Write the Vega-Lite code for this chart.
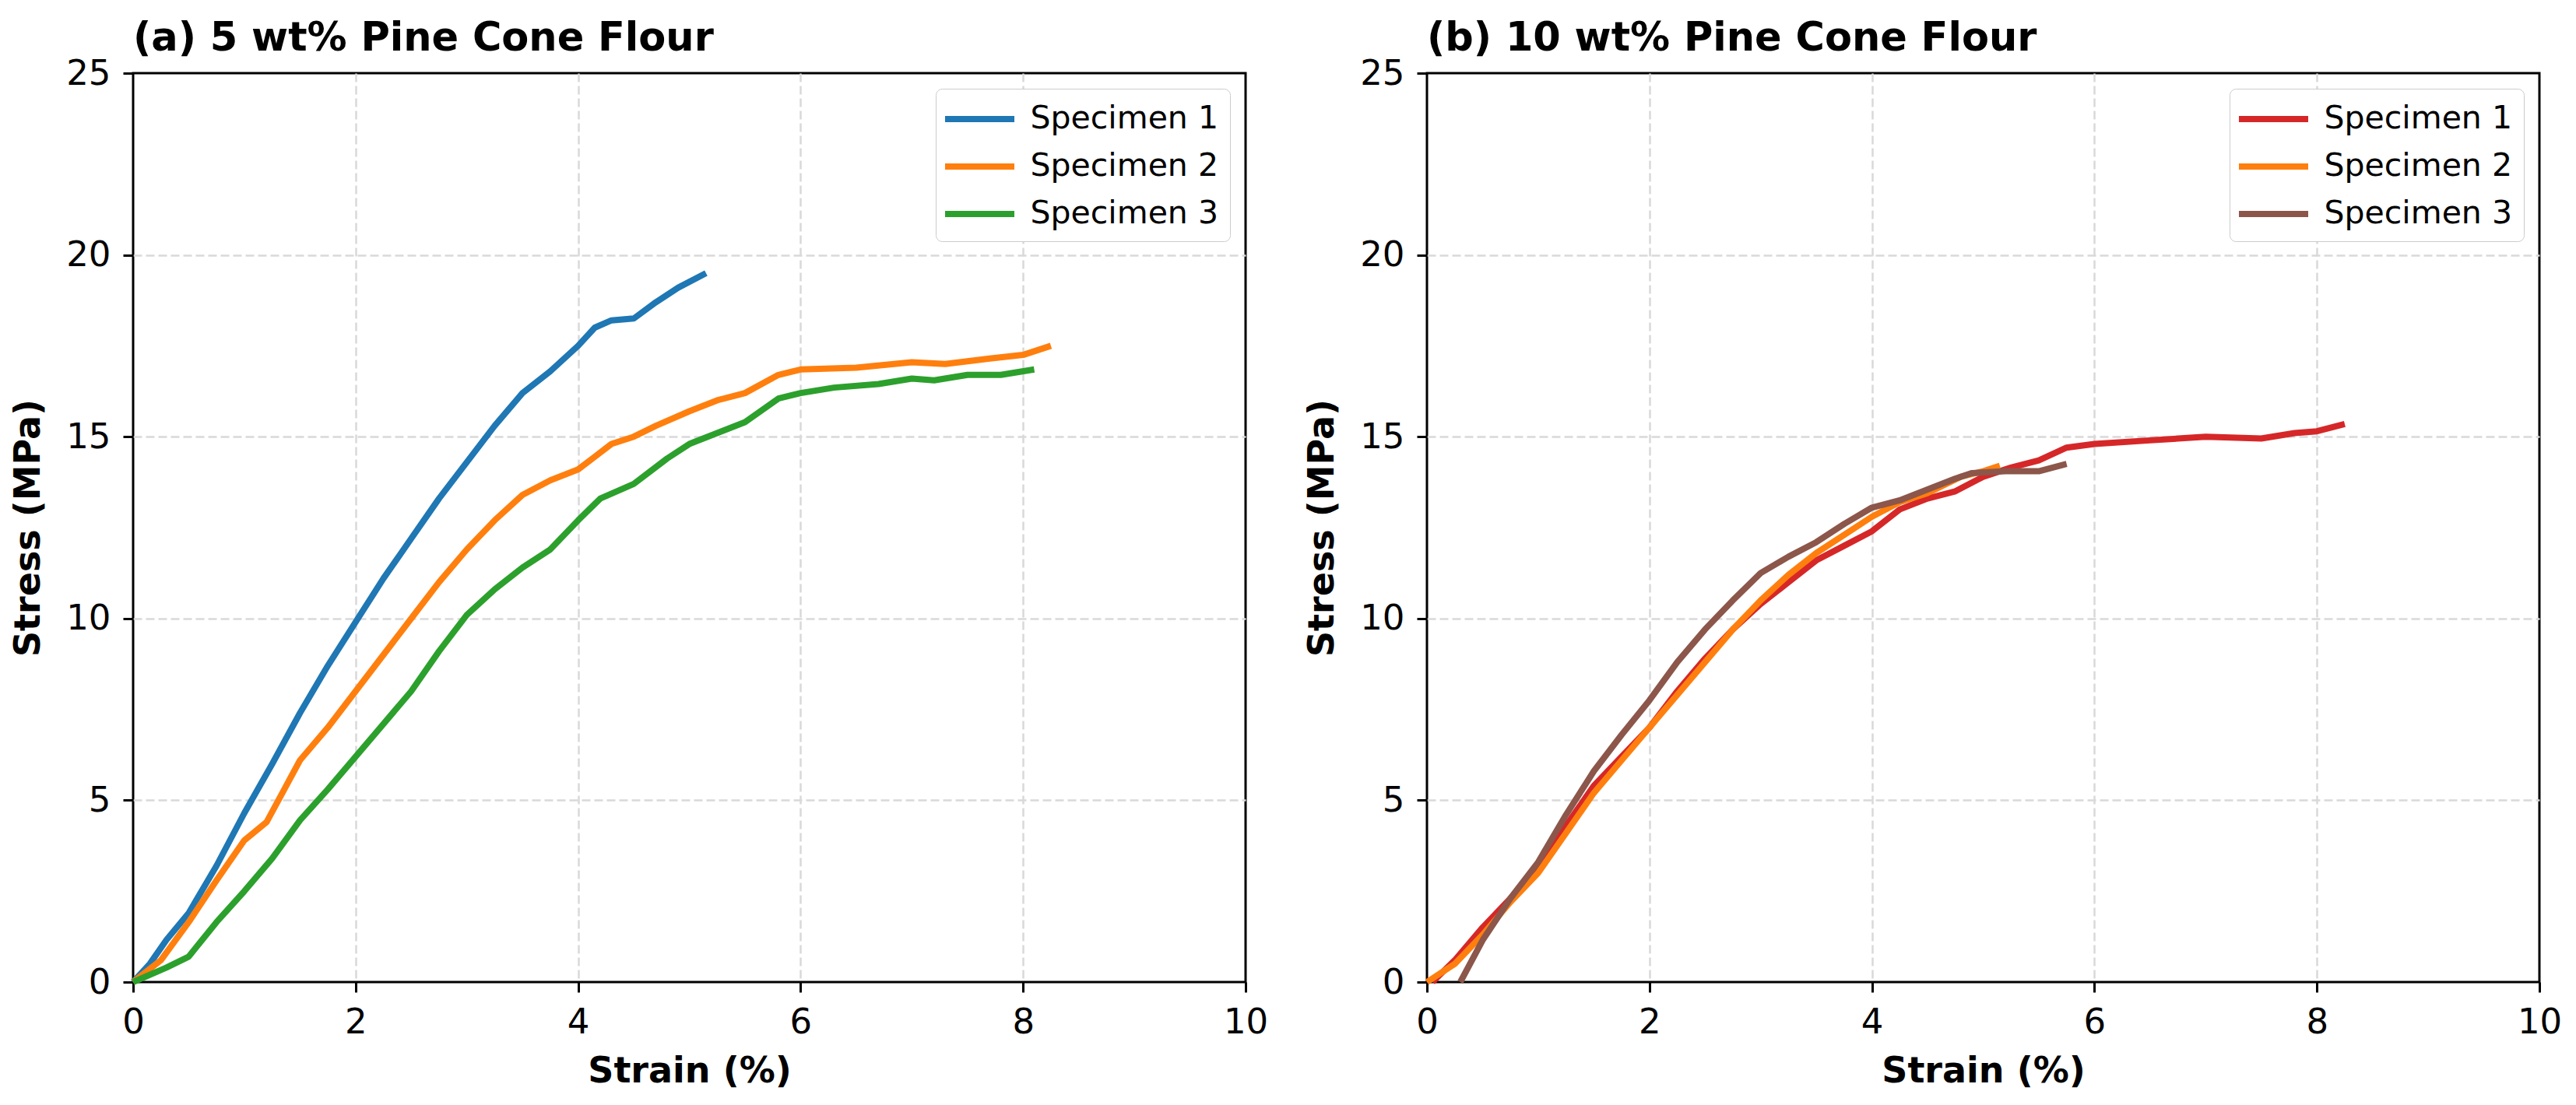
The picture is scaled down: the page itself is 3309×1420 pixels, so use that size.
{
  "$schema": "https://vega.github.io/schema/vega-lite/v6.json",
  "padding": {"left": 12, "top": 22, "right": 10, "bottom": 5},
  "background": "white",
  "datasets": {
    "curves": [
      {"panel": "a", "specimen": "Specimen 1", "strain": 0, "stress": 0},
      {"panel": "a", "specimen": "Specimen 1", "strain": 0.15, "stress": 0.5},
      {"panel": "a", "specimen": "Specimen 1", "strain": 0.3, "stress": 1.16},
      {"panel": "a", "specimen": "Specimen 1", "strain": 0.5, "stress": 1.9},
      {"panel": "a", "specimen": "Specimen 1", "strain": 0.75, "stress": 3.2},
      {"panel": "a", "specimen": "Specimen 1", "strain": 1, "stress": 4.65},
      {"panel": "a", "specimen": "Specimen 1", "strain": 1.25, "stress": 6.0},
      {"panel": "a", "specimen": "Specimen 1", "strain": 1.5, "stress": 7.4},
      {"panel": "a", "specimen": "Specimen 1", "strain": 1.75, "stress": 8.7},
      {"panel": "a", "specimen": "Specimen 1", "strain": 2, "stress": 9.9},
      {"panel": "a", "specimen": "Specimen 1", "strain": 2.25, "stress": 11.1},
      {"panel": "a", "specimen": "Specimen 1", "strain": 2.5, "stress": 12.2},
      {"panel": "a", "specimen": "Specimen 1", "strain": 2.75, "stress": 13.3},
      {"panel": "a", "specimen": "Specimen 1", "strain": 3, "stress": 14.3},
      {"panel": "a", "specimen": "Specimen 1", "strain": 3.25, "stress": 15.3},
      {"panel": "a", "specimen": "Specimen 1", "strain": 3.5, "stress": 16.2},
      {"panel": "a", "specimen": "Specimen 1", "strain": 3.75, "stress": 16.8},
      {"panel": "a", "specimen": "Specimen 1", "strain": 4, "stress": 17.5},
      {"panel": "a", "specimen": "Specimen 1", "strain": 4.15, "stress": 18.0},
      {"panel": "a", "specimen": "Specimen 1", "strain": 4.3, "stress": 18.2},
      {"panel": "a", "specimen": "Specimen 1", "strain": 4.5, "stress": 18.25},
      {"panel": "a", "specimen": "Specimen 1", "strain": 4.7, "stress": 18.7},
      {"panel": "a", "specimen": "Specimen 1", "strain": 4.9, "stress": 19.1},
      {"panel": "a", "specimen": "Specimen 1", "strain": 5.15, "stress": 19.5},

      {"panel": "a", "specimen": "Specimen 2", "strain": 0, "stress": 0},
      {"panel": "a", "specimen": "Specimen 2", "strain": 0.25, "stress": 0.6},
      {"panel": "a", "specimen": "Specimen 2", "strain": 0.5, "stress": 1.65},
      {"panel": "a", "specimen": "Specimen 2", "strain": 0.75, "stress": 2.8},
      {"panel": "a", "specimen": "Specimen 2", "strain": 1, "stress": 3.9},
      {"panel": "a", "specimen": "Specimen 2", "strain": 1.2, "stress": 4.4},
      {"panel": "a", "specimen": "Specimen 2", "strain": 1.5, "stress": 6.1},
      {"panel": "a", "specimen": "Specimen 2", "strain": 1.75, "stress": 7.0},
      {"panel": "a", "specimen": "Specimen 2", "strain": 2, "stress": 8.0},
      {"panel": "a", "specimen": "Specimen 2", "strain": 2.25, "stress": 9.0},
      {"panel": "a", "specimen": "Specimen 2", "strain": 2.5, "stress": 10.0},
      {"panel": "a", "specimen": "Specimen 2", "strain": 2.75, "stress": 11.0},
      {"panel": "a", "specimen": "Specimen 2", "strain": 3, "stress": 11.9},
      {"panel": "a", "specimen": "Specimen 2", "strain": 3.25, "stress": 12.7},
      {"panel": "a", "specimen": "Specimen 2", "strain": 3.5, "stress": 13.4},
      {"panel": "a", "specimen": "Specimen 2", "strain": 3.75, "stress": 13.8},
      {"panel": "a", "specimen": "Specimen 2", "strain": 4, "stress": 14.1},
      {"panel": "a", "specimen": "Specimen 2", "strain": 4.3, "stress": 14.8},
      {"panel": "a", "specimen": "Specimen 2", "strain": 4.5, "stress": 15.0},
      {"panel": "a", "specimen": "Specimen 2", "strain": 4.7, "stress": 15.3},
      {"panel": "a", "specimen": "Specimen 2", "strain": 5, "stress": 15.7},
      {"panel": "a", "specimen": "Specimen 2", "strain": 5.25, "stress": 16.0},
      {"panel": "a", "specimen": "Specimen 2", "strain": 5.5, "stress": 16.2},
      {"panel": "a", "specimen": "Specimen 2", "strain": 5.8, "stress": 16.7},
      {"panel": "a", "specimen": "Specimen 2", "strain": 6, "stress": 16.85},
      {"panel": "a", "specimen": "Specimen 2", "strain": 6.5, "stress": 16.9},
      {"panel": "a", "specimen": "Specimen 2", "strain": 7, "stress": 17.05},
      {"panel": "a", "specimen": "Specimen 2", "strain": 7.3, "stress": 17.0},
      {"panel": "a", "specimen": "Specimen 2", "strain": 7.7, "stress": 17.15},
      {"panel": "a", "specimen": "Specimen 2", "strain": 8, "stress": 17.25},
      {"panel": "a", "specimen": "Specimen 2", "strain": 8.25, "stress": 17.5},

      {"panel": "a", "specimen": "Specimen 3", "strain": 0, "stress": 0},
      {"panel": "a", "specimen": "Specimen 3", "strain": 0.3, "stress": 0.4},
      {"panel": "a", "specimen": "Specimen 3", "strain": 0.5, "stress": 0.7},
      {"panel": "a", "specimen": "Specimen 3", "strain": 0.75, "stress": 1.65},
      {"panel": "a", "specimen": "Specimen 3", "strain": 1, "stress": 2.5},
      {"panel": "a", "specimen": "Specimen 3", "strain": 1.25, "stress": 3.4},
      {"panel": "a", "specimen": "Specimen 3", "strain": 1.5, "stress": 4.45},
      {"panel": "a", "specimen": "Specimen 3", "strain": 1.75, "stress": 5.3},
      {"panel": "a", "specimen": "Specimen 3", "strain": 2, "stress": 6.2},
      {"panel": "a", "specimen": "Specimen 3", "strain": 2.25, "stress": 7.1},
      {"panel": "a", "specimen": "Specimen 3", "strain": 2.5, "stress": 8.0},
      {"panel": "a", "specimen": "Specimen 3", "strain": 2.75, "stress": 9.1},
      {"panel": "a", "specimen": "Specimen 3", "strain": 3, "stress": 10.1},
      {"panel": "a", "specimen": "Specimen 3", "strain": 3.25, "stress": 10.8},
      {"panel": "a", "specimen": "Specimen 3", "strain": 3.5, "stress": 11.4},
      {"panel": "a", "specimen": "Specimen 3", "strain": 3.75, "stress": 11.9},
      {"panel": "a", "specimen": "Specimen 3", "strain": 4, "stress": 12.7},
      {"panel": "a", "specimen": "Specimen 3", "strain": 4.2, "stress": 13.3},
      {"panel": "a", "specimen": "Specimen 3", "strain": 4.5, "stress": 13.7},
      {"panel": "a", "specimen": "Specimen 3", "strain": 4.8, "stress": 14.4},
      {"panel": "a", "specimen": "Specimen 3", "strain": 5, "stress": 14.8},
      {"panel": "a", "specimen": "Specimen 3", "strain": 5.25, "stress": 15.1},
      {"panel": "a", "specimen": "Specimen 3", "strain": 5.5, "stress": 15.4},
      {"panel": "a", "specimen": "Specimen 3", "strain": 5.8, "stress": 16.05},
      {"panel": "a", "specimen": "Specimen 3", "strain": 6, "stress": 16.2},
      {"panel": "a", "specimen": "Specimen 3", "strain": 6.3, "stress": 16.35},
      {"panel": "a", "specimen": "Specimen 3", "strain": 6.7, "stress": 16.45},
      {"panel": "a", "specimen": "Specimen 3", "strain": 7, "stress": 16.6},
      {"panel": "a", "specimen": "Specimen 3", "strain": 7.2, "stress": 16.55},
      {"panel": "a", "specimen": "Specimen 3", "strain": 7.5, "stress": 16.7},
      {"panel": "a", "specimen": "Specimen 3", "strain": 7.8, "stress": 16.7},
      {"panel": "a", "specimen": "Specimen 3", "strain": 8.1, "stress": 16.85},

      {"panel": "b", "specimen": "Specimen 1", "strain": 0.05, "stress": 0},
      {"panel": "b", "specimen": "Specimen 1", "strain": 0.25, "stress": 0.6},
      {"panel": "b", "specimen": "Specimen 1", "strain": 0.5, "stress": 1.5},
      {"panel": "b", "specimen": "Specimen 1", "strain": 0.75, "stress": 2.3},
      {"panel": "b", "specimen": "Specimen 1", "strain": 1, "stress": 3.2},
      {"panel": "b", "specimen": "Specimen 1", "strain": 1.25, "stress": 4.3},
      {"panel": "b", "specimen": "Specimen 1", "strain": 1.5, "stress": 5.4},
      {"panel": "b", "specimen": "Specimen 1", "strain": 1.75, "stress": 6.2},
      {"panel": "b", "specimen": "Specimen 1", "strain": 2, "stress": 7.0},
      {"panel": "b", "specimen": "Specimen 1", "strain": 2.25, "stress": 8.0},
      {"panel": "b", "specimen": "Specimen 1", "strain": 2.5, "stress": 8.9},
      {"panel": "b", "specimen": "Specimen 1", "strain": 2.75, "stress": 9.7},
      {"panel": "b", "specimen": "Specimen 1", "strain": 3, "stress": 10.4},
      {"panel": "b", "specimen": "Specimen 1", "strain": 3.25, "stress": 11.0},
      {"panel": "b", "specimen": "Specimen 1", "strain": 3.5, "stress": 11.6},
      {"panel": "b", "specimen": "Specimen 1", "strain": 3.75, "stress": 12.0},
      {"panel": "b", "specimen": "Specimen 1", "strain": 4, "stress": 12.4},
      {"panel": "b", "specimen": "Specimen 1", "strain": 4.25, "stress": 13.0},
      {"panel": "b", "specimen": "Specimen 1", "strain": 4.5, "stress": 13.3},
      {"panel": "b", "specimen": "Specimen 1", "strain": 4.75, "stress": 13.5},
      {"panel": "b", "specimen": "Specimen 1", "strain": 5, "stress": 13.9},
      {"panel": "b", "specimen": "Specimen 1", "strain": 5.25, "stress": 14.15},
      {"panel": "b", "specimen": "Specimen 1", "strain": 5.5, "stress": 14.35},
      {"panel": "b", "specimen": "Specimen 1", "strain": 5.75, "stress": 14.7},
      {"panel": "b", "specimen": "Specimen 1", "strain": 6, "stress": 14.8},
      {"panel": "b", "specimen": "Specimen 1", "strain": 6.5, "stress": 14.9},
      {"panel": "b", "specimen": "Specimen 1", "strain": 7, "stress": 15.0},
      {"panel": "b", "specimen": "Specimen 1", "strain": 7.5, "stress": 14.95},
      {"panel": "b", "specimen": "Specimen 1", "strain": 7.8, "stress": 15.1},
      {"panel": "b", "specimen": "Specimen 1", "strain": 8, "stress": 15.15},
      {"panel": "b", "specimen": "Specimen 1", "strain": 8.25, "stress": 15.35},

      {"panel": "b", "specimen": "Specimen 2", "strain": 0, "stress": 0},
      {"panel": "b", "specimen": "Specimen 2", "strain": 0.25, "stress": 0.5},
      {"panel": "b", "specimen": "Specimen 2", "strain": 0.5, "stress": 1.3},
      {"panel": "b", "specimen": "Specimen 2", "strain": 0.75, "stress": 2.2},
      {"panel": "b", "specimen": "Specimen 2", "strain": 1, "stress": 3.0},
      {"panel": "b", "specimen": "Specimen 2", "strain": 1.25, "stress": 4.1},
      {"panel": "b", "specimen": "Specimen 2", "strain": 1.5, "stress": 5.2},
      {"panel": "b", "specimen": "Specimen 2", "strain": 1.75, "stress": 6.1},
      {"panel": "b", "specimen": "Specimen 2", "strain": 2, "stress": 7.0},
      {"panel": "b", "specimen": "Specimen 2", "strain": 2.25, "stress": 7.9},
      {"panel": "b", "specimen": "Specimen 2", "strain": 2.5, "stress": 8.8},
      {"panel": "b", "specimen": "Specimen 2", "strain": 2.75, "stress": 9.7},
      {"panel": "b", "specimen": "Specimen 2", "strain": 3, "stress": 10.5},
      {"panel": "b", "specimen": "Specimen 2", "strain": 3.25, "stress": 11.2},
      {"panel": "b", "specimen": "Specimen 2", "strain": 3.5, "stress": 11.8},
      {"panel": "b", "specimen": "Specimen 2", "strain": 3.75, "stress": 12.3},
      {"panel": "b", "specimen": "Specimen 2", "strain": 4, "stress": 12.8},
      {"panel": "b", "specimen": "Specimen 2", "strain": 4.25, "stress": 13.2},
      {"panel": "b", "specimen": "Specimen 2", "strain": 4.5, "stress": 13.45},
      {"panel": "b", "specimen": "Specimen 2", "strain": 4.8, "stress": 13.9},
      {"panel": "b", "specimen": "Specimen 2", "strain": 5, "stress": 14.05},
      {"panel": "b", "specimen": "Specimen 2", "strain": 5.15, "stress": 14.2},

      {"panel": "b", "specimen": "Specimen 3", "strain": 0.3, "stress": 0},
      {"panel": "b", "specimen": "Specimen 3", "strain": 0.5, "stress": 1.15},
      {"panel": "b", "specimen": "Specimen 3", "strain": 0.75, "stress": 2.3},
      {"panel": "b", "specimen": "Specimen 3", "strain": 1, "stress": 3.3},
      {"panel": "b", "specimen": "Specimen 3", "strain": 1.25, "stress": 4.6},
      {"panel": "b", "specimen": "Specimen 3", "strain": 1.5, "stress": 5.8},
      {"panel": "b", "specimen": "Specimen 3", "strain": 1.75, "stress": 6.8},
      {"panel": "b", "specimen": "Specimen 3", "strain": 2, "stress": 7.75},
      {"panel": "b", "specimen": "Specimen 3", "strain": 2.25, "stress": 8.8},
      {"panel": "b", "specimen": "Specimen 3", "strain": 2.5, "stress": 9.7},
      {"panel": "b", "specimen": "Specimen 3", "strain": 2.75, "stress": 10.5},
      {"panel": "b", "specimen": "Specimen 3", "strain": 3, "stress": 11.25},
      {"panel": "b", "specimen": "Specimen 3", "strain": 3.25, "stress": 11.7},
      {"panel": "b", "specimen": "Specimen 3", "strain": 3.5, "stress": 12.1},
      {"panel": "b", "specimen": "Specimen 3", "strain": 3.75, "stress": 12.6},
      {"panel": "b", "specimen": "Specimen 3", "strain": 4, "stress": 13.05},
      {"panel": "b", "specimen": "Specimen 3", "strain": 4.25, "stress": 13.25},
      {"panel": "b", "specimen": "Specimen 3", "strain": 4.5, "stress": 13.55},
      {"panel": "b", "specimen": "Specimen 3", "strain": 4.75, "stress": 13.85},
      {"panel": "b", "specimen": "Specimen 3", "strain": 4.9, "stress": 14.0},
      {"panel": "b", "specimen": "Specimen 3", "strain": 5.2, "stress": 14.05},
      {"panel": "b", "specimen": "Specimen 3", "strain": 5.5, "stress": 14.05},
      {"panel": "b", "specimen": "Specimen 3", "strain": 5.75, "stress": 14.25}
    ]
  },
  "config": {
    "font": "DejaVu Sans",
    "view": {"stroke": "black", "strokeWidth": 3},
    "title": {
      "font": "DejaVu Sans",
      "fontSize": 51,
      "fontWeight": "bold",
      "color": "black",
      "anchor": "start",
      "frame": "group",
      "offset": -4
    },
    "axis": {
      "domain": false,
      "ticks": true,
      "tickSize": 13,
      "tickWidth": 3,
      "tickColor": "black",
      "labelFont": "DejaVu Sans",
      "labelFontSize": 45,
      "labelColor": "black",
      "labelPadding": 16,
      "labelFlush": false,
      "labelOverlap": false,
      "titleFont": "DejaVu Sans",
      "titleFontSize": 46,
      "titleFontWeight": "bold",
      "titleColor": "black",
      "grid": true,
      "gridColor": "#d9d9d9",
      "gridDash": [11, 5],
      "gridWidth": 2.5
    },
    "axisX": {"titlePadding": 18},
    "axisY": {"titlePadding": 24},
    "legend": {
      "orient": "top-right",
      "offset": 20,
      "padding": 15,
      "strokeColor": "#cccccc",
      "fillColor": "white",
      "cornerRadius": 8,
      "labelFont": "DejaVu Sans",
      "labelFontSize": 41,
      "labelColor": "black",
      "labelLimit": 0,
      "symbolType": "M-2.225,0H2.225",
      "symbolSize": 1600,
      "symbolOffset": 17.5,
      "symbolStrokeWidth": 8,
      "labelOffset": 41,
      "rowPadding": 17,
      "title": null
    }
  },
  "bounds": "flush",
  "spacing": 233,
  "hconcat": [
    {
      "title": "(a) 5 wt% Pine Cone Flour",
      "width": 1429,
      "height": 1168,
      "data": {"name": "curves"},
      "transform": [{"filter": "datum.panel == 'a'"}],
      "mark": {"type": "line", "strokeWidth": 8, "strokeJoin": "round"},
      "encoding": {
        "x": {
          "field": "strain",
          "type": "quantitative",
          "title": "Strain (%)",
          "scale": {"domain": [0, 10], "nice": false},
          "axis": {
            "values": [0, 2, 4, 6, 8, 10],
            "gridOpacity": {"condition": {"test": "datum.value == 0 || datum.value == 10", "value": 0}, "value": 1}
          }
        },
        "y": {
          "field": "stress",
          "type": "quantitative",
          "title": "Stress (MPa)",
          "scale": {"domain": [0, 25], "nice": false},
          "axis": {
            "values": [0, 5, 10, 15, 20, 25],
            "gridOpacity": {"condition": {"test": "datum.value == 0 || datum.value == 25", "value": 0}, "value": 1}
          }
        },
        "color": {
          "field": "specimen",
          "type": "nominal",
          "scale": {"domain": ["Specimen 1", "Specimen 2", "Specimen 3"], "range": ["#1f77b4", "#ff7f0e", "#2ca02c"]},
          "legend": {"symbolType": "M-2.225,0H2.225"}
        }
      }
    },
    {
      "title": "(b) 10 wt% Pine Cone Flour",
      "width": 1429,
      "height": 1168,
      "data": {"name": "curves"},
      "transform": [{"filter": "datum.panel == 'b'"}],
      "mark": {"type": "line", "strokeWidth": 8, "strokeJoin": "round"},
      "encoding": {
        "x": {
          "field": "strain",
          "type": "quantitative",
          "title": "Strain (%)",
          "scale": {"domain": [0, 10], "nice": false},
          "axis": {
            "values": [0, 2, 4, 6, 8, 10],
            "gridOpacity": {"condition": {"test": "datum.value == 0 || datum.value == 10", "value": 0}, "value": 1}
          }
        },
        "y": {
          "field": "stress",
          "type": "quantitative",
          "title": "Stress (MPa)",
          "scale": {"domain": [0, 25], "nice": false},
          "axis": {
            "values": [0, 5, 10, 15, 20, 25],
            "gridOpacity": {"condition": {"test": "datum.value == 0 || datum.value == 25", "value": 0}, "value": 1}
          }
        },
        "color": {
          "field": "specimen",
          "type": "nominal",
          "scale": {"domain": ["Specimen 1", "Specimen 2", "Specimen 3"], "range": ["#d62728", "#ff7f0e", "#8c564b"]},
          "legend": {"symbolType": "M-2.225,0H2.225"}
        }
      }
    }
  ],
  "resolve": {"scale": {"color": "independent", "x": "independent", "y": "independent"}, "legend": {"color": "independent"}}
}
